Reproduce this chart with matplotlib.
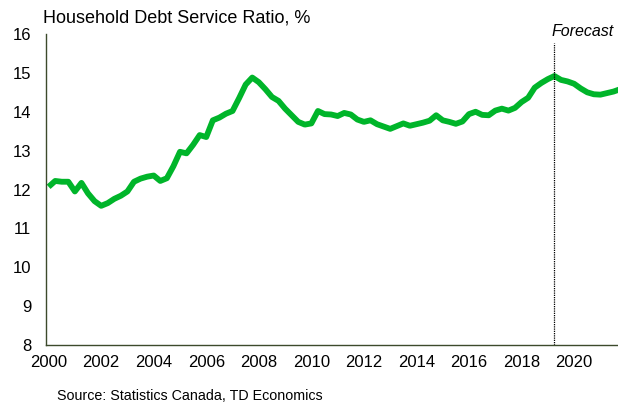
import numpy as np
import matplotlib
matplotlib.use("Agg")
import matplotlib.pyplot as plt

plt.rcParams['font.family'] = ['Liberation Sans', 'DejaVu Sans']

start_year = 2000
dsr = [12.07, 12.22, 12.20, 12.20, 11.95, 12.17, 11.90, 11.70,
       11.58, 11.65, 11.76, 11.84, 11.95, 12.20, 12.28, 12.33,
       12.36, 12.22, 12.29, 12.60, 12.97, 12.93, 13.15, 13.40,
       13.35, 13.78, 13.85, 13.95, 14.02, 14.35, 14.70, 14.88,
       14.76, 14.58, 14.38, 14.28, 14.08, 13.91, 13.74, 13.67,
       13.70, 14.02, 13.94, 13.93, 13.89, 13.97, 13.93, 13.80,
       13.74, 13.78, 13.68, 13.62, 13.56, 13.63, 13.70, 13.64,
       13.68, 13.72, 13.77, 13.91, 13.78, 13.74, 13.69, 13.75,
       13.94, 14.00, 13.92, 13.91, 14.03, 14.08, 14.03, 14.10,
       14.25, 14.36, 14.62, 14.74, 14.84, 14.92, 14.82, 14.78,
       14.72, 14.60, 14.50, 14.45, 14.44, 14.48, 14.52, 14.58]
forecast_start = 2019.25
x_ticks = list(range(2000, 2021, 2))
y_ticks = list(range(8, 17))

t = start_year + np.arange(len(dsr)) / 4.0

fig = plt.figure(figsize=(6.18, 4.03), dpi=100)
ax = fig.add_axes([0.0744, 0.1439, 0.9256, 0.7717])

ax.plot(t, dsr, color='#00B52A', lw=4.2, solid_joinstyle='round', solid_capstyle='butt')
ax.axvline(forecast_start, ymin=0, ymax=0.97, color='black', lw=0.9, ls=(0, (1, 0.8)))

ax.set_xlim(1999.9, 2021.67)
ax.set_ylim(8, 16)
ax.set_xticks(x_ticks)
ax.set_yticks(y_ticks)
ax.tick_params(length=0, labelsize=12, colors='black')
ax.tick_params(axis='x', pad=7)
ax.tick_params(axis='y', pad=10.5)
for s in ['top', 'right']:
    ax.spines[s].set_visible(False)
for s in ['left', 'bottom']:
    ax.spines[s].set_color('#3c4a2c')
    ax.spines[s].set_linewidth(1.0)

fig.text(43/618, 1 - 18/403, 'Household Debt Service Ratio, %', fontsize=13,
         ha='left', va='center')
fig.text(583/618, 1 - 32/403, 'Forecast', fontsize=11.5, style='italic',
         ha='center', va='center')
fig.text(57/618, 1 - 396/403, 'Source: Statistics Canada, TD Economics', fontsize=10.3,
         ha='left', va='center')

fig.savefig('out.png', dpi=100)
